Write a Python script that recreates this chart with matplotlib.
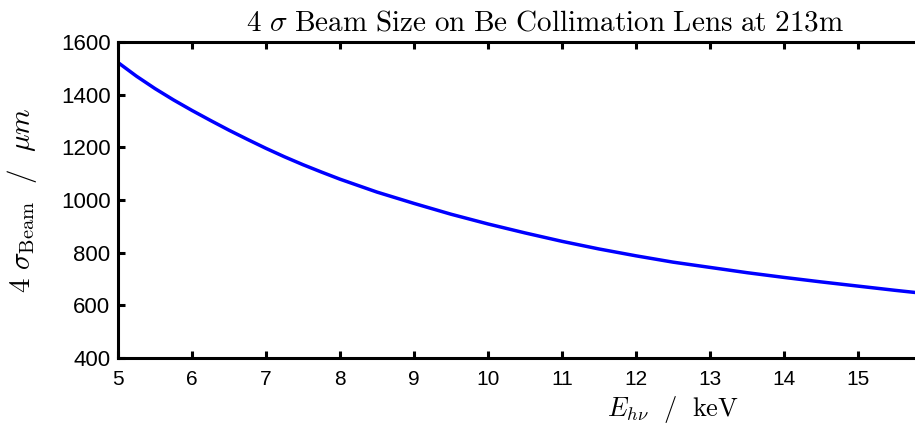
import matplotlib
matplotlib.use("Agg")
import matplotlib.pyplot as plt

plt.rcParams['mathtext.fontset'] = 'cm'
plt.rcParams['font.family'] = ['Liberation Sans', 'DejaVu Sans']

# beam size at the collimation lens vs photon energy
energy_kev = [5.0, 5.25, 5.5, 5.75, 6.0, 6.25, 6.5, 6.75, 7.0, 7.25, 7.5, 7.75,
              8.0, 8.5, 9.0, 9.5, 10.0, 10.5, 11.0, 11.5, 12.0, 12.5, 13.0,
              13.5, 14.0, 14.5, 15.0, 15.5, 16.0]
beam_um = [1522, 1470, 1423, 1380, 1340, 1302, 1265, 1230, 1196, 1164, 1134, 1106,
           1079, 1030, 987, 946, 909, 875, 843, 814, 788, 764, 744,
           724, 706, 689, 673, 657, 642]

x_ticks = list(range(5, 16))
y_ticks = [400, 600, 800, 1000, 1200, 1400, 1600]

fig = plt.figure(figsize=(9.15, 4.23), dpi=100)
# axes run out to 20 keV, past the right edge of the figure
ax = fig.add_axes([0.129, 0.1537, 1.213, 0.747])

ax.plot(energy_kev, beam_um, color='#0000ff', lw=2.5)

ax.set_xlim(5, 20)
ax.set_ylim(400, 1600)
ax.set_xticks(x_ticks)
ax.set_yticks(y_ticks)
ax.tick_params(direction='in', length=5, width=2.2, labelsize=16,
               top=True, right=True)
ax.tick_params(axis='x', labelsize=15, pad=8.5)
ax.tick_params(axis='y', pad=5.5)
for s in ax.spines.values():
    s.set_linewidth(2.2)

ax.set_xlabel(r'$E_{h\nu}\ \ /\ \ \mathrm{keV}$', fontsize=19)
ax.xaxis.set_label_coords(0.5, -0.113)
ax.set_ylabel(r'$4\ \sigma_{\mathrm{Beam}}\ \ /\ \ \mu m$', fontsize=21)
ax.yaxis.set_label_coords(-0.071, 0.5)
fig.text(0.596, 0.928, r'$4\ \sigma\ \mathrm{Beam\ Size\ on\ Be\ Collimation\ Lens\ at\ 213m}$',
         ha='center', va='baseline', fontsize=21)

fig.savefig('out.png', dpi=100)
